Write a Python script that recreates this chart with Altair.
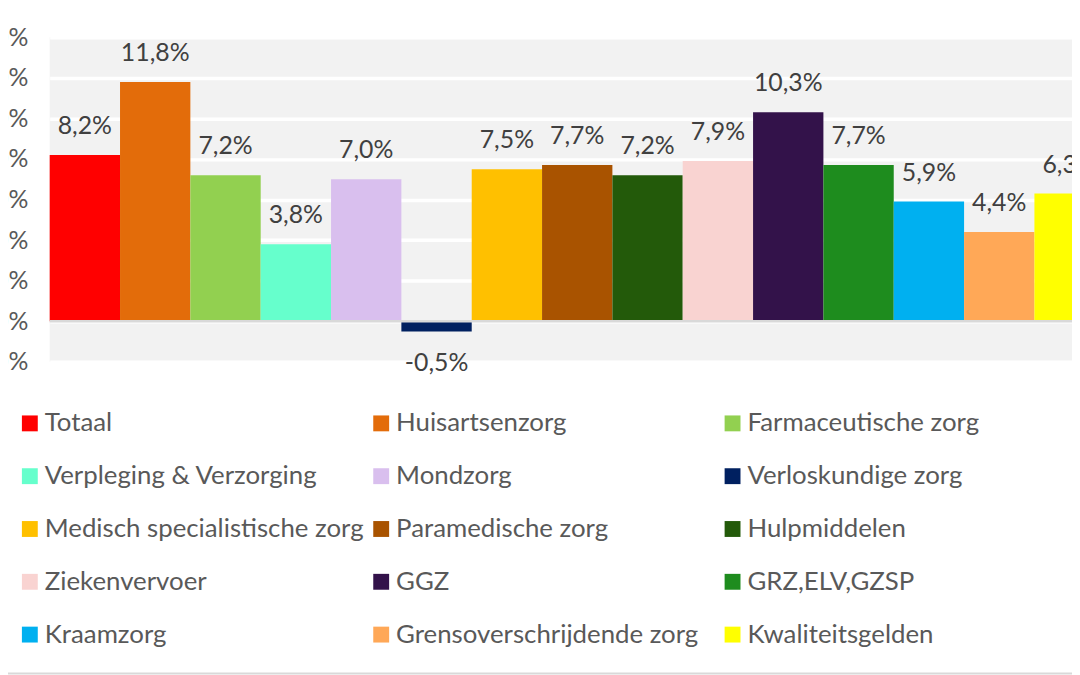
import altair as alt
import pandas as pd

categories = [
    "Totaal", "Huisartsenzorg", "Farmaceutische zorg",
    "Verpleging & Verzorging", "Mondzorg", "Verloskundige zorg",
    "Medisch specialistische zorg", "Paramedische zorg", "Hulpmiddelen",
    "Ziekenvervoer", "GGZ", "GRZ,ELV,GZSP",
    "Kraamzorg", "Grensoverschrijdende zorg", "Kwaliteitsgelden",
]
values = [8.2, 11.8, 7.2, 3.8, 7.0, -0.5, 7.5, 7.7, 7.2, 7.9, 10.3, 7.7, 5.9, 4.4, 6.3]
colors = [
    "#FF0000", "#E36C0A", "#92D050",
    "#66FFCC", "#D9BFEE", "#002060",
    "#FFC000", "#A95300", "#235A0A",
    "#F9D3D1", "#33124A", "#1E8C1E",
    "#00B0F0", "#FFA857", "#FFFF00",
]
y_ticks = [-2, 0, 2, 4, 6, 8, 10, 12, 14]

df = pd.DataFrame({"cat": categories, "v": values})
df["label"] = [f"{v:.1f}".replace(".", ",") + "%" for v in values]

FONT = "Lato"
FS = 25

x_enc = alt.X("cat:N", sort=categories,
              scale=alt.Scale(range=[0, 1063], paddingInner=0, paddingOuter=0),
              axis=None)
y_scale = alt.Scale(domain=[-2, 14], nice=False, zero=False)

bars = alt.Chart(df).mark_bar(stroke=None).encode(
    x=x_enc,
    y=alt.Y("v:Q", scale=y_scale, stack=None,
            axis=alt.Axis(values=y_ticks, title=None, domain=False, ticks=False,
                          grid=True, gridColor="#FFFFFF", gridWidth=3.5,
                          labelPadding=22, labelFont=FONT, labelFontSize=FS,
                          labelColor="#595959",
                          labelExpr="replace(format(datum.value, '.1f'), '.', ',') + '%'")),
    y2=alt.datum(0),
    color=alt.Color("cat:N", sort=categories,
                    scale=alt.Scale(domain=categories, range=colors),
                    legend=alt.Legend(orient="none", legendX=-33, legendY=376,
                                      direction="horizontal",
                                      columns=3, gridAlign="all", title=None,
                                      symbolType="square", symbolSize=256,
                                      symbolStrokeWidth=0, labelFont=FONT,
                                      labelFontSize=26, labelColor="#595959",
                                      labelOffset=2, rowPadding=27.2,
                                      columnPadding=4, labelLimit=500,
                                      padding=0)),
)

pos_labels = alt.Chart(df).transform_filter("datum.v >= 0").mark_text(
    font=FONT, fontSize=FS, color="#404040", baseline="alphabetic", dy=-21
).encode(x=x_enc, y=alt.Y("v:Q", scale=y_scale), text="label:N")

neg_labels = alt.Chart(df).transform_filter("datum.v < 0").mark_text(
    font=FONT, fontSize=FS, color="#404040", baseline="alphabetic", dy=40
).encode(x=x_enc, y=alt.Y("v:Q", scale=y_scale), text="label:N")

zero_line = alt.Chart(pd.DataFrame({"z": [0]})).mark_rule(
    color="#D9D9D9", strokeWidth=2.5
).encode(y=alt.Y("z:Q", scale=y_scale), x=alt.value(0), x2=alt.value(1063))

border = alt.Chart(pd.DataFrame({"z": [0]})).mark_rule(
    color="#D9D9D9", strokeWidth=2
).encode(x=alt.value(-42), x2=alt.value(1030), y=alt.value(641))

chart = alt.layer(bars, zero_line, pos_labels, neg_labels, border).properties(
    width=1030, height=327,
    autosize=alt.AutoSizeParams(type="none"),
    padding={"left": 42, "top": 27, "right": 0, "bottom": 313},
    background="#FFFFFF",
).configure_view(fill="#F2F2F2", stroke=None)

chart.save("out.html", embed_options={"renderer": "svg", "actions": False})
